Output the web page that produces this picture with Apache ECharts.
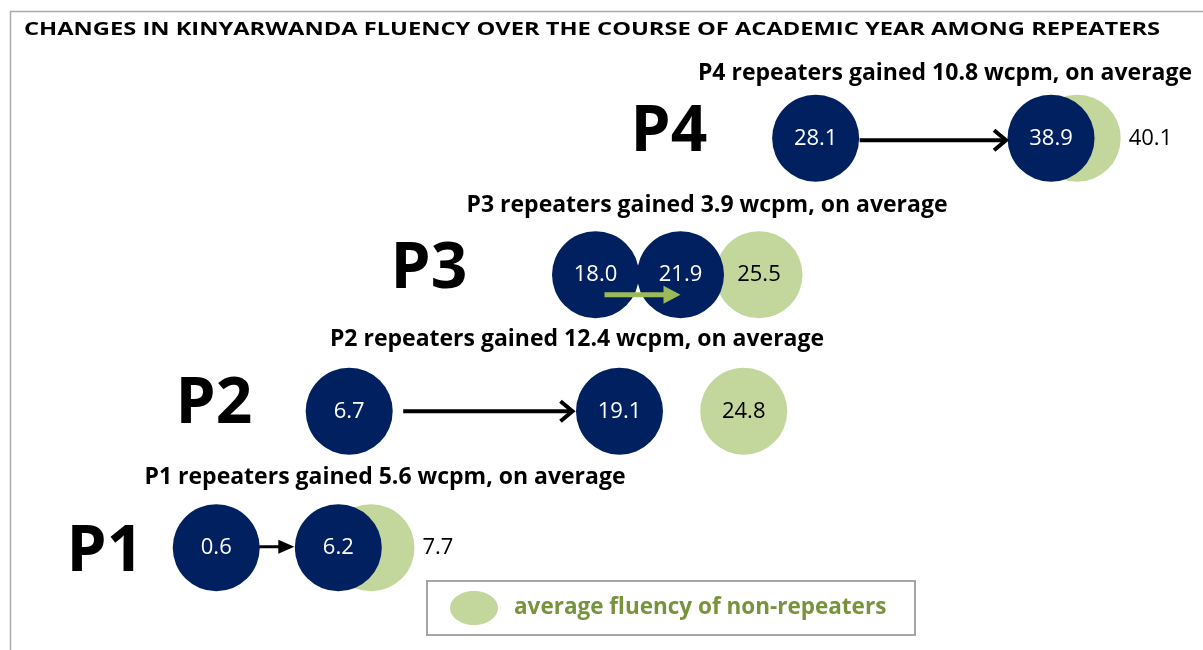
<!DOCTYPE html>
<html>
<head>
    <meta charset="utf-8">
    <title>Kinyarwanda fluency among repeaters</title>
    <script src="https://cdn.jsdelivr.net/npm/echarts@6/dist/echarts.min.js"></script>
    <style>
      html, body { margin: 0; padding: 0; background: #fff; }
    </style>
</head>
<body>
    <!-- chart container -->
    <div id="main" style="width: 1203px;height:650px;"></div>

    <script type="text/javascript">

var grades = ['P1', 'P2', 'P3', 'P4'];
var startFluency = [0.6, 6.7, 18.0, 28.1];   // repeaters, start of year
var endFluency = [6.2, 19.1, 21.9, 38.9];    // repeaters, end of year
var nonRepeaters = [7.7, 24.8, 25.5, 40.1];  // average fluency of non-repeaters
var gains = [5.6, 12.4, 3.9, 10.8];

var NAVY = '#002060';
var LIGHT_GREEN = '#C3D69B';
var FONT = '"Open Sans", "Noto Sans", sans-serif';
var CIRCLE = 87;
var LEGEND_TEXT = 'average fluency of non-repeaters';

// arrow look for each grade row (pixel offsets from circle centres)
var arrowLook = [
    {x0: 43, x1: -44, dy: -1, color: '#000', w: 3, head: 'solid', len: 16, half: 7},
    {x0: 54, x1: -47, dy: 0, color: '#000', w: 4, head: 'open', len: 12, half: 10},
    {x0: 9, x1: 0, dy: 20, color: '#9BBB59', w: 5, head: 'solid', len: 17, half: 9},
    {x0: 44, x1: -45, dy: 2, color: '#000', w: 4, head: 'open', len: 12, half: 10}
];

// subtitle and grade label positions
var subtitlePos = [[385, 477], [577, 339], [707, 205], [945, 73]];
var gradePos = [[105, 553], [214, 405], [429, 270], [669, 133]];

var myChart = echarts.init(document.getElementById('main'));

function pairs(values) {
    return values.map(function (v, i) { return [v, i]; });
}

var graphics = [{
    type: 'rect',
    shape: {x: 10.5, y: 11.5, width: 1400, height: 800},
    style: {fill: null, stroke: '#ABABAB', lineWidth: 1.5},
    silent: true
}, {
    // title, stretched a little to match the original wide bold face
    type: 'text',
    x: 24,
    y: 30,
    scaleX: 1.28,
    style: {
        text: 'CHANGES IN KINYARWANDA FLUENCY OVER THE COURSE OF ACADEMIC YEAR AMONG REPEATERS',
        fill: '#000',
        font: 'bold 18.5px ' + FONT,
        textAlign: 'left',
        textVerticalAlign: 'middle'
    }
}, {
    // legend box
    type: 'group',
    left: 426,
    top: 580,
    children: [{
        type: 'rect',
        shape: {x: 1, y: 1, width: 488, height: 54},
        style: {fill: '#fff', stroke: '#A6A6A6', lineWidth: 2}
    }, {
        type: 'ellipse',
        shape: {cx: 48, cy: 28, rx: 24, ry: 17},
        style: {fill: LIGHT_GREEN}
    }, {
        type: 'text',
        x: 88,
        y: 28,
        style: {
            text: LEGEND_TEXT,
            fill: '#77933C',
            font: 'bold 22.5px ' + FONT,
            textAlign: 'left',
            textVerticalAlign: 'middle'
        }
    }]
}];
grades.forEach(function (g, i) {
    graphics.push({
        type: 'text',
        x: gradePos[i][0],
        y: gradePos[i][1],
        style: {
            text: g,
            fill: '#000',
            font: 'bold 64px ' + FONT,
            textAlign: 'center',
            textVerticalAlign: 'middle'
        }
    });
    graphics.push({
        type: 'text',
        x: subtitlePos[i][0],
        y: subtitlePos[i][1],
        style: {
            text: g + ' repeaters gained ' + gains[i].toFixed(1) + ' wcpm, on average',
            fill: '#000',
            font: 'bold 23px ' + FONT,
            textAlign: 'center',
            textVerticalAlign: 'middle'
        }
    });
});

myChart.setOption({
    animation: false,
    grid: {left: 7, right: 19, top: 70, bottom: 34},
    xAxis: {
        type: 'value',
        min: -9,
        max: 45,
        show: false
    },
    yAxis: {
        type: 'category',
        data: grades,
        show: false
    },
    graphic: graphics,
    series: [{
        name: LEGEND_TEXT,
        type: 'scatter',
        symbolSize: CIRCLE,
        itemStyle: {color: LIGHT_GREEN, opacity: 1},
        data: nonRepeaters.map(function (v, i) {
            var outside = v - endFluency[i] < 2.5;
            return {
                value: [v, i],
                label: outside ? {position: 'right', distance: 8} : {position: 'inside'}
            };
        }),
        label: {
            show: true,
            formatter: function (p) { return p.value[0].toFixed(1); },
            color: '#000',
            fontFamily: FONT,
            fontSize: 22
        }
    },
    {
        name: 'start of year',
        type: 'scatter',
        symbolSize: CIRCLE,
        itemStyle: {color: NAVY, opacity: 1},
        data: pairs(startFluency),
        label: {
            show: true,
            position: 'inside',
            formatter: function (p) { return p.value[0].toFixed(1); },
            color: '#fff',
            fontFamily: FONT,
            fontSize: 22
        }
    },
    {
        name: 'end of year',
        type: 'scatter',
        symbolSize: CIRCLE,
        itemStyle: {color: NAVY, opacity: 1},
        data: pairs(endFluency),
        label: {
            show: true,
            position: 'inside',
            formatter: function (p) { return p.value[0].toFixed(1); },
            color: '#fff',
            fontFamily: FONT,
            fontSize: 22
        }
    },
    {
        name: 'gain',
        type: 'custom',
        z: 5,
        data: startFluency.map(function (v, i) { return [v, endFluency[i], i]; }),
        renderItem: function (params, api) {
            var i = api.value(2);
            var look = arrowLook[i];
            var a = api.coord([api.value(0), i]);
            var b = api.coord([api.value(1), i]);
            var y = a[1] + look.dy;
            var x0 = a[0] + look.x0;
            var x1 = b[0] + look.x1;
            var children = [];
            if (look.head === 'solid') {
                children.push({
                    type: 'line',
                    shape: {x1: x0, y1: y, x2: x1 - look.len + 1, y2: y},
                    style: {stroke: look.color, lineWidth: look.w}
                });
                children.push({
                    type: 'polygon',
                    shape: {points: [[x1, y], [x1 - look.len, y - look.half], [x1 - look.len, y + look.half]]},
                    style: {fill: look.color}
                });
            } else {
                children.push({
                    type: 'line',
                    shape: {x1: x0, y1: y, x2: x1 - 1, y2: y},
                    style: {stroke: look.color, lineWidth: look.w}
                });
                children.push({
                    type: 'polyline',
                    shape: {points: [[x1 - look.len, y - look.half], [x1, y], [x1 - look.len, y + look.half]]},
                    style: {stroke: look.color, lineWidth: look.w, fill: null}
                });
            }
            return {type: 'group', children: children};
        }
    }]
});
</script>
</body>
</html>
